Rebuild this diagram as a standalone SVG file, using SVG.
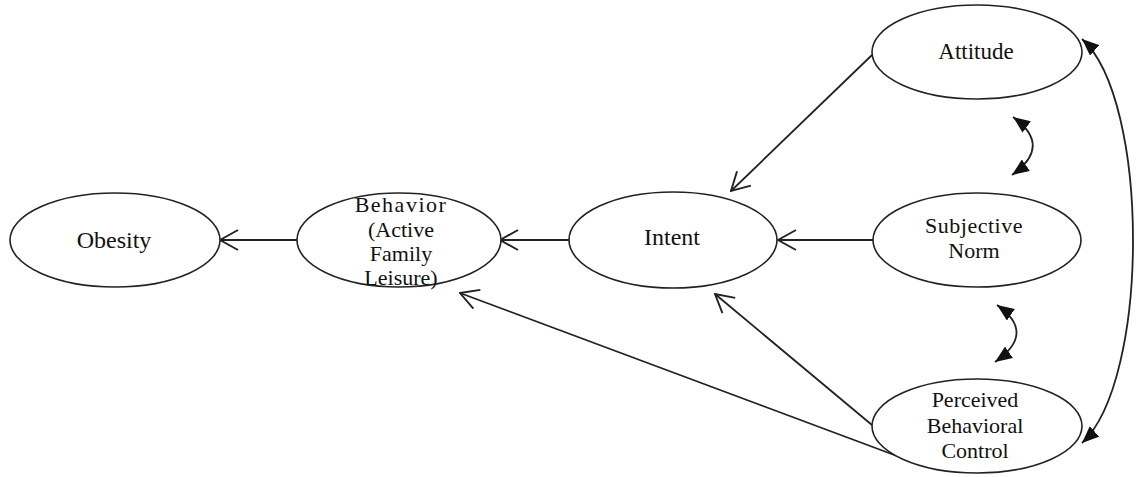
<svg xmlns="http://www.w3.org/2000/svg" width="1137" height="477" viewBox="0 0 1137 477">
<style>
.node ellipse{fill:#fff;stroke:#222;stroke-width:1.6}
.node text{font-family:"Liberation Serif","Times New Roman",Tinos,"DejaVu Serif","Noto Serif",FreeSerif,serif;fill:#111;text-anchor:middle}
.conn path{fill:none;stroke:#222;stroke-width:1.8}
.open{marker-end:url(#open)}
.both{marker-start:url(#solid);marker-end:url(#solid)}
</style>
<defs>
<marker id="open" viewBox="0 0 20 22" refX="19" refY="11" markerWidth="20" markerHeight="22" markerUnits="userSpaceOnUse" orient="auto">
<path d="M1,1 L19,11 L1,21" fill="none" stroke="#222" stroke-width="1.9"/>
</marker>
<marker id="solid" viewBox="0 0 17 14" refX="17" refY="7" markerWidth="17" markerHeight="14" markerUnits="userSpaceOnUse" orient="auto-start-reverse">
<path d="M0,0 L17,7 L0,14 Z" fill="#111"/>
</marker>
</defs>
<rect width="1137" height="477" fill="#fff"/>
<g id="connectors" class="conn">
<path class="open" d="M297,240 L220,240"/>
<path class="open" d="M570,240 L500,240"/>
<path class="open" d="M873,240 L778,240"/>
<path class="open" d="M872,55 L731,191"/>
<path class="open" d="M872,425 L715,294"/>
<path class="open" d="M905,459 L460,293"/>
<path class="both" d="M1013,117 Q1053,146 1012,175"/>
<path class="both" d="M997,305 Q1037,333 995,362"/>
<path class="both" d="M1082,39 C1150,100 1150,380 1082,443"/>
</g>
<g id="obesity" class="node">
<ellipse cx="115" cy="240" rx="105" ry="47"/>
<text x="114" y="248" font-size="24">Obesity</text>
</g>
<g id="behavior" class="node">
<ellipse cx="399" cy="240" rx="102" ry="47"/>
<text font-size="22"><tspan x="401" y="212" letter-spacing="1.5">Behavior</tspan><tspan x="401" y="237">(Active</tspan><tspan x="401" y="261">Family</tspan><tspan x="401" y="285">Leisure)</tspan></text>
</g>
<g id="intent" class="node">
<ellipse cx="673" cy="240" rx="104" ry="48"/>
<text x="672" y="245" font-size="24">Intent</text>
</g>
<g id="attitude" class="node">
<ellipse cx="977" cy="52" rx="105" ry="47"/>
<text x="976" y="59" font-size="23">Attitude</text>
</g>
<g id="subjective-norm" class="node">
<ellipse cx="977" cy="240" rx="104" ry="47"/>
<text font-size="22"><tspan x="974" y="233" letter-spacing="0.5">Subjective</tspan><tspan x="974" y="258">Norm</tspan></text>
</g>
<g id="perceived-behavioral-control" class="node">
<ellipse cx="977" cy="426" rx="105" ry="47"/>
<text font-size="22"><tspan x="975" y="407">Perceived</tspan><tspan x="975" y="433">Behavioral</tspan><tspan x="975" y="458">Control</tspan></text>
</g>
</svg>
